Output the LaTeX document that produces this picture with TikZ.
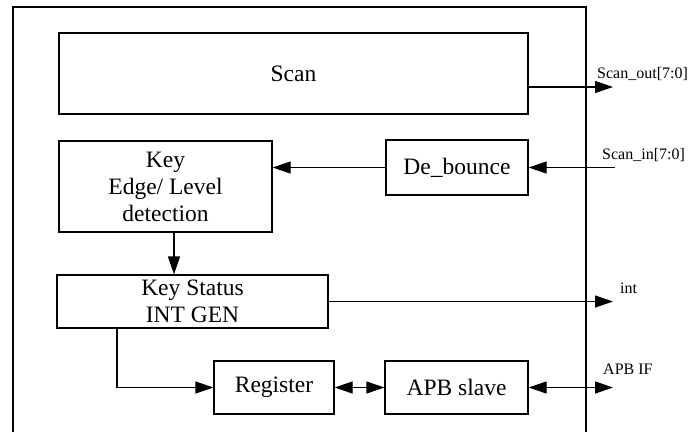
\documentclass[tikz,border=0pt]{standalone}
\usepackage{fontspec}
\setmainfont{Liberation Serif}
\usetikzlibrary{arrows.meta}
\tikzset{
  box/.style={draw, line width=1.2pt, inner sep=0pt, align=center, font=\fontsize{23.5}{27}\selectfont},
  arr/.style={line width=1.2pt, -{Triangle[length=18pt,width=12pt]}},
  darr/.style={line width=1.2pt, {Triangle[length=18pt,width=12pt]}-{Triangle[length=18pt,width=12pt]}},
  lbl/.style={anchor=west, inner sep=0pt, font=\fontsize{16}{19}\selectfont}
}
\begin{document}
\begin{tikzpicture}[x=1pt,y=-1pt]
\useasboundingbox (0,0) rectangle (696,432);
\draw[line width=1.2pt] (13,432) -- (13,7) -- (586,7) -- (586,432);
\node[box, minimum width=469pt, minimum height=81pt] (scan) at (293.5,73.5) {Scan};
\node[box, minimum width=213pt, minimum height=91pt] (key) at (165.5,186.5) {Key\\Edge/ Level\\detection};
\node[box, minimum width=142pt, minimum height=55pt] (deb) at (457,167.5) {De\_bounce};
\node[box, minimum width=271pt, minimum height=53pt] (ks) at (192.5,301.5) {Key Status\\INT GEN};
\node[box, minimum width=120pt, minimum height=53pt] (reg) at (274,387.5) {Register};
\node[box, minimum width=143pt, minimum height=53pt] (apb) at (456.5,387.5) {APB slave};
\coordinate (so) at (613,87);
\coordinate (si) at (615,167.5);
\coordinate (io) at (613,301.5);
\coordinate (ap) at (613,387.5);
\node[lbl] (lso) at (597,74) {Scan\_out[7:0]};
\node[lbl] (lsi) at (602,155) {Scan\_in[7:0]};
\node[lbl] (lint) at (620,288) {int};
\node[lbl] (lapb) at (603,369) {APB IF};
\draw[arr] (scan.east |- so) -- (so);
\draw[arr] (si) -- (deb.east);
\draw[arr] (deb.west) -- (deb.west -| key.east);
\draw[arr] ([xshift=8.5pt]key.south) -- ([xshift=8.5pt]key.south |- ks.north);
\draw[arr] (ks.east) -- (io);
\draw[arr] ([xshift=-75.5pt]ks.south) |- (reg.west);
\draw[darr] (reg.east) -- (apb.west);
\draw[darr] (apb.east) -- (ap);
\end{tikzpicture}
\end{document}
